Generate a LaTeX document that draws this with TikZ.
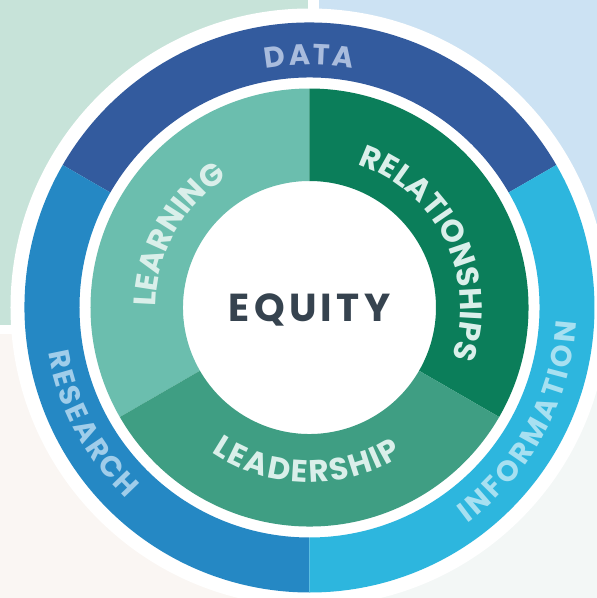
\documentclass[tikz,border=0pt]{standalone}
\usepackage{fontspec}
\newfontfamily\pop{Poppins}
\usetikzlibrary{decorations.text}
\definecolor{bgTL}{HTML}{C7E3D9}
\definecolor{bgTR}{HTML}{CCE2F3}
\definecolor{bgBL}{HTML}{FAF6F3}
\definecolor{bgBR}{HTML}{F3F7F6}
\definecolor{dataC}{HTML}{335B9E}
\definecolor{resC}{HTML}{2588C4}
\definecolor{infoC}{HTML}{2DB6DE}
\definecolor{learnC}{HTML}{6BBEAE}
\definecolor{relC}{HTML}{0B7E5A}
\definecolor{leadC}{HTML}{3F9E83}
\definecolor{dataT}{HTML}{A9BCDD}
\definecolor{resT}{HTML}{A0CDEA}
\definecolor{infoT}{HTML}{A7E0F1}
\definecolor{greenT}{HTML}{DAEFEA}
\definecolor{equityC}{HTML}{36434F}
\tikzset{
  arclabel/.style={decorate, decoration={text along path, text align=center, text={#1}}}
}
\newcommand{\heavy}{\pop\bfseries}
\newcommand{\outerfont}{\heavy\fontsize{29}{29}\selectfont}
\newcommand{\innerfont}{\heavy\fontsize{31}{31}\selectfont}
\begin{document}
\begin{tikzpicture}[x=1pt,y=1pt]
\useasboundingbox (-309.5,-290.5) rectangle (287.5,307.5);
% background quadrants
\fill[bgTL] (-309.5,307.5) rectangle (-1.5,-17.5);
\fill[bgTR] (9.5,307.5) rectangle (287.5,-17.5);
\fill[bgBL] (-309.5,-26.5) rectangle (-1.5,-290.5);
\fill[bgBR] (9.5,-26.5) rectangle (287.5,-290.5);
% white disk
\fill[white] (0,0) circle[radius=299];
% outer ring
\foreach \a/\b/\c in {30/150/dataC,150/270/resC,-90/30/infoC}
  \fill[\c] (\a:285) arc[start angle=\a,end angle=\b,radius=285] -- (\b:230) arc[start angle=\b,end angle=\a,radius=230] -- cycle;
% inner ring
\foreach \a/\b/\c in {90/210/learnC,-30/90/relC,210/330/leadC}
  \fill[\c] (\a:219) arc[start angle=\a,end angle=\b,radius=219] -- (\b:126.5) arc[start angle=\b,end angle=\a,radius=126.5] -- cycle;
% outer texts
\path[arclabel={|\outerfont\color{dataT}|D{\kern2.2pt}A{\kern2.2pt}T{\kern2.2pt}A}]
  (150:243) arc[start angle=150,end angle=30,radius=243];
\path[arclabel={|\outerfont\color{resT}|R{\kern2.5pt}E{\kern2.5pt}S{\kern2.5pt}E{\kern2.5pt}A{\kern2.5pt}R{\kern2.5pt}C{\kern2.5pt}H}]
  (160:265) arc[start angle=160,end angle=256,radius=265];
\path[arclabel={|\outerfont\color{infoT}|I{\kern3pt}N{\kern3pt}F{\kern3pt}O{\kern3pt}R{\kern3pt}M{\kern3pt}A{\kern3pt}T{\kern3pt}I{\kern3pt}O{\kern3pt}N}]
  (-85:267) arc[start angle=-85,end angle=28,radius=267];
% inner texts
\path[arclabel={|\innerfont\color{greenT}|LEARNING}]
  (205:153.5) arc[start angle=205,end angle=97,radius=153.5];
\path[arclabel={|\innerfont\color{greenT}|RELATIONSHIPS}]
  (110:151) arc[start angle=110,end angle=-58,radius=151];
\path[arclabel={|\innerfont\color{greenT}|L{\kern2pt}E{\kern2pt}A{\kern2pt}D{\kern2pt}E{\kern2pt}R{\kern2pt}S{\kern2pt}H{\kern2pt}I{\kern2pt}P}]
  (207:175) arc[start angle=207,end angle=331,radius=175];
% center
\node[font=\heavy\fontsize{39}{39}\selectfont, text=equityC, anchor=base, inner sep=0pt] (eq) at (0,-14.2) {E\kern4.3pt Q\kern4.3pt U\kern4.3pt I\kern4.3pt T\kern4.3pt Y};
\end{tikzpicture}
\end{document}
